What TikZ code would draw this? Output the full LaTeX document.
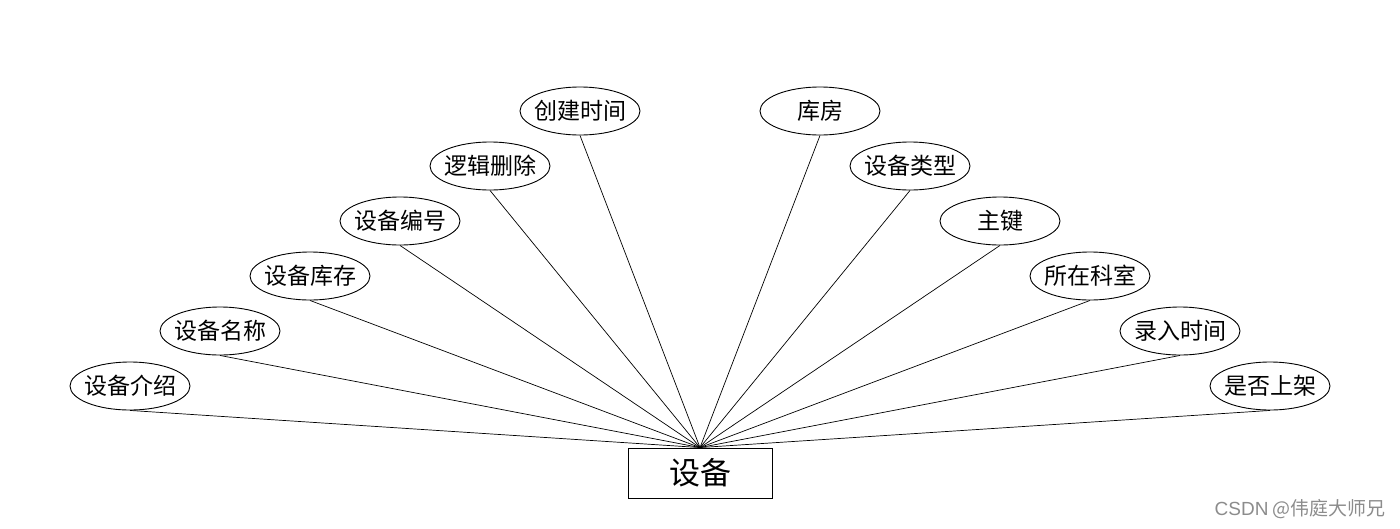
\documentclass[tikz,border=0pt]{standalone}
\usepackage{fontspec}
\setmainfont{Noto Sans CJK SC}
\newfontfamily\wmfont{Liberation Sans}
\usetikzlibrary{shapes.geometric}
\begin{document}
\begin{tikzpicture}[x=1pt,y=-1pt,
  attr/.style={draw,ellipse,line width=0.9pt,minimum width=120pt,minimum height=48pt,inner xsep=-8pt,inner ysep=0pt,font=\fontsize{23}{26}\selectfont},
  ent/.style={draw,rectangle,line width=0.9pt,minimum width=144pt,minimum height=50pt,inner sep=0pt,font=\fontsize{31}{34}\selectfont},
  link/.style={line width=0.7pt}]
\useasboundingbox (0,0) rectangle (1400,528);
\node[ent] (dev) at (700,473) {设备};
\node[attr] (a1) at (130,386) {设备介绍};
\node[attr] (a2) at (220,331) {设备名称};
\node[attr] (a3) at (310,276) {设备库存};
\node[attr] (a4) at (400,221) {设备编号};
\node[attr] (a5) at (490,166) {逻辑删除};
\node[attr] (a6) at (580,111) {创建时间};
\node[attr] (b1) at (820,111) {库房};
\node[attr] (b2) at (910,166) {设备类型};
\node[attr] (b3) at (1000,221) {主键};
\node[attr] (b4) at (1090,276) {所在科室};
\node[attr] (b5) at (1180,331) {录入时间};
\node[attr] (b6) at (1270,386) {是否上架};
\foreach \n in {a1,a2,a3,a4,a5,a6,b1,b2,b3,b4,b5,b6}
  \draw[link] (\n.south) -- (dev.north);
\node[anchor=east,text=black!45,inner sep=0pt,font=\fontsize{19}{22}\selectfont] (wm) at (1386,509) {{\wmfont CSDN} @伟庭大师兄};
\end{tikzpicture}
\end{document}
